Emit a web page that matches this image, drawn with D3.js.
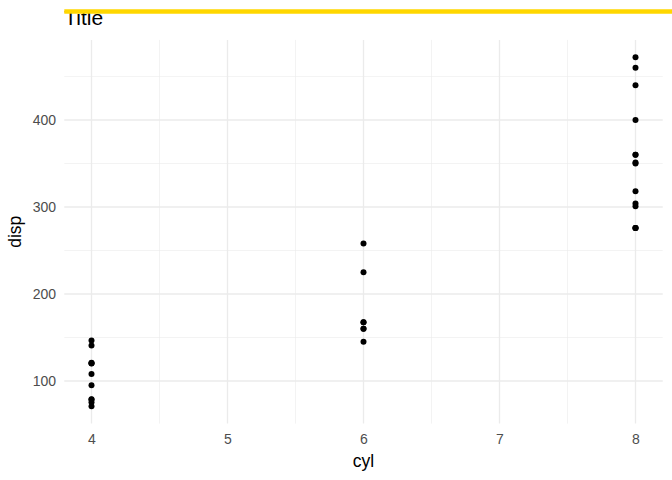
<!DOCTYPE html>
<html><head><meta charset="utf-8">
<script src="https://cdn.jsdelivr.net/npm/d3@7"></script>
<style>body{margin:0;background:#fff}text{font-family:"Liberation Sans",Arial,sans-serif}</style>
</head><body><svg id="c" width="672" height="480"></svg>
<script>
const cylValues = [6,6,4,6,8,6,8,4,4,6,6,8,8,8,8,8,8,4,4,4,4,8,8,8,8,4,4,4,8,6,8,4];
const dispValues = [160,160,108,258,360,225,360,146.7,140.8,167.6,167.6,275.8,275.8,275.8,472,460,440,78.7,75.7,71.1,120.1,318,304,350,400,79,120.3,95.1,351,145,301,121];
const xTicks = [4,5,6,7,8];
const xMinor = [4.5,5.5,6.5,7.5];
const yTicks = [100,200,300,400];
const yMinor = [150,250,350,450];

(function () {
const svg = d3.select("#c");
const pL = 64.3, pR = 662.7, pT = 39.9, pB = 423.6;
const xMin = d3.min(cylValues), xMax = d3.max(cylValues);
const yMin = d3.min(dispValues), yMax = d3.max(dispValues);
const xe = (xMax - xMin) * 0.05, ye = (yMax - yMin) * 0.05;
const x = d3.scaleLinear().domain([xMin - xe, xMax + xe]).range([pL, pR]);
const y = d3.scaleLinear().domain([yMin - ye, yMax + ye]).range([pB, pT]);

const g = svg.append("g");
g.selectAll(".xm").data(xMinor).enter().append("line")
  .attr("x1", d => x(d)).attr("x2", d => x(d)).attr("y1", pT).attr("y2", pB)
  .attr("stroke", "#EBEBEB").attr("stroke-width", 0.6);
g.selectAll(".ym").data(yMinor).enter().append("line")
  .attr("y1", d => y(d)).attr("y2", d => y(d)).attr("x1", pL).attr("x2", pR)
  .attr("stroke", "#EBEBEB").attr("stroke-width", 0.6);
g.selectAll(".xM").data(xTicks).enter().append("line")
  .attr("x1", d => x(d)).attr("x2", d => x(d)).attr("y1", pT).attr("y2", pB)
  .attr("stroke", "#EBEBEB").attr("stroke-width", 1.3);
g.selectAll(".yM").data(yTicks).enter().append("line")
  .attr("y1", d => y(d)).attr("y2", d => y(d)).attr("x1", pL).attr("x2", pR)
  .attr("stroke", "#EBEBEB").attr("stroke-width", 1.3);

const xAxis = d3.axisBottom(x).tickValues(xTicks).tickSize(0).tickPadding(0).tickFormat(d3.format("d"));
const xa = svg.append("g").attr("transform", `translate(0,${pB + 10.5})`).call(xAxis);
xa.attr("font-size", null).attr("font-family", null);
xa.select(".domain").remove();
xa.selectAll("text").attr("fill", "#4D4D4D").attr("dy", "0.71em")
  .style("font-size", "14px").style("font-family", '"Liberation Sans",Arial,sans-serif');
const yAxis = d3.axisLeft(y).tickValues(yTicks).tickSize(0).tickPadding(0);
const ya = svg.append("g").attr("transform", `translate(${pL - 8.3},0)`).call(yAxis);
ya.attr("font-size", null).attr("font-family", null);
ya.select(".domain").remove();
ya.selectAll("text").attr("fill", "#4D4D4D")
  .style("font-size", "14px").style("font-family", '"Liberation Sans",Arial,sans-serif');

svg.append("g").selectAll("circle").data(cylValues.map((c, i) => [c, dispValues[i]]))
  .enter().append("circle")
  .attr("cx", d => x(d[0])).attr("cy", d => y(d[1])).attr("r", 3).attr("fill", "#000");

svg.append("text").attr("x", (pL + pR) / 2).attr("y", 467).attr("text-anchor", "middle")
  .style("font-size", "17.5px").attr("fill", "#000").text("cyl");
svg.append("text").attr("transform", `translate(21,${(pT + pB) / 2}) rotate(-90)`)
  .attr("text-anchor", "middle").style("font-size", "17.5px").attr("fill", "#000").text("disp");

svg.append("text").attr("x", pL).attr("y", 25).style("font-size", "21px").attr("fill", "#000").text("Title");
svg.append("line").attr("x1", pL).attr("x2", 672).attr("y1", 11.5).attr("y2", 11.5)
  .attr("stroke", "#FFD700").attr("stroke-width", 4.5);
})();
</script></body></html>
